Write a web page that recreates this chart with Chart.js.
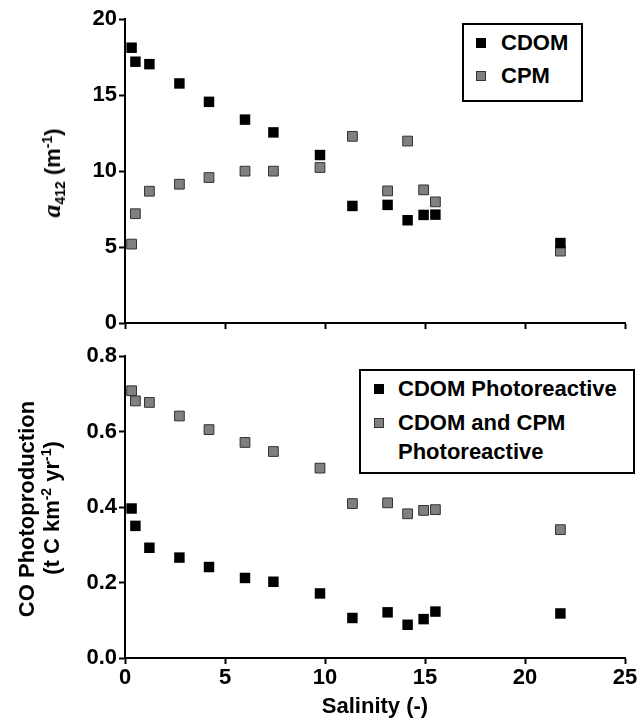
<!DOCTYPE html>
<html>
<head>
<meta charset="utf-8">
<script src="https://cdn.jsdelivr.net/npm/chart.js@4.4.1/dist/chart.umd.min.js"></script>
<style>
  html, body { margin: 0; padding: 0; background: #fff; }
  body { width: 638px; height: 728px; position: relative; overflow: hidden;
         font-family: "Liberation Sans", Arial, sans-serif; font-weight: bold; color: #000; }
  canvas { position: absolute; left: 0; }
  .ytitle { position: absolute; white-space: nowrap; font-size: 22px; font-weight: bold;
            transform: translate(-50%, -50%) rotate(-90deg); line-height: 1; }
  .ytitle sub, .ytitle sup { font-size: 14px; line-height: 0; }
  .legbox { position: absolute; border: 2px solid #000; box-sizing: border-box; background: #fff; }
  .mk { position: absolute; width: 10px; height: 10px; box-sizing: border-box; transform: translate(-50%, -50%); }
  .lt { position: absolute; font-size: 22px; font-weight: bold; white-space: nowrap; transform: translateY(-50%); line-height: 1; }
</style>
</head>
<body>
<canvas id="top" width="638" height="340" style="top:0"></canvas>
<canvas id="bot" width="638" height="388" style="top:340px"></canvas>

<div class="ytitle" style="left:52px; top:173px;"><span style="font-family:'Liberation Serif',serif; font-style:italic; font-weight:bold; font-size:26px;">a</span><sub>412</sub> (m<sup>-1</sup>)</div>
<div class="ytitle" style="left:27px; top:509px;">CO Photoproduction</div>
<div class="ytitle" style="left:52px; top:508px;">(t C km<sup>-2</sup> yr<sup>-1</sup>)</div>

<div class="legbox" style="left:462px; top:23px; width:121px; height:79px;"></div>
<div class="mk" style="left:481px; top:43px; background:#000;"></div>
<div class="lt" style="left:501px; top:43px;">CDOM</div>
<div class="mk" style="left:481px; top:76px; background:#808080; border:1px solid #333;"></div>
<div class="lt" style="left:501px; top:76px;">CPM</div>

<div class="legbox" style="left:359px; top:369px; width:276px; height:105px;"></div>
<div class="mk" style="left:379px; top:389px; background:#000;"></div>
<div class="lt" style="left:398px; top:389px;">CDOM Photoreactive</div>
<div class="mk" style="left:379px; top:423px; background:#808080; border:1px solid #333;"></div>
<div class="lt" style="left:398px; top:423px;">CDOM and CPM</div>
<div class="lt" style="left:398px; top:452px;">Photoreactive</div>

<script>
// Data
const salinity = [0.33, 0.52, 1.22, 2.72, 4.2, 6.0, 7.42, 9.75, 11.37, 13.13, 14.13, 14.93, 15.52, 21.77];
const cdomA412 = [18.11, 17.19, 17.03, 15.76, 14.55, 13.38, 12.54, 11.05, 7.70, 7.77, 6.76, 7.11, 7.13, 5.26];
const cpmA412  = [5.19, 7.19, 8.67, 9.13, 9.57, 9.99, 9.99, 10.23, 12.28, 8.69, 11.97, 8.76, 7.97, 4.73];
const coCdom    = [0.396, 0.350, 0.292, 0.266, 0.241, 0.212, 0.202, 0.171, 0.106, 0.121, 0.088, 0.103, 0.123, 0.118];
const coCdomCpm = [0.708, 0.681, 0.677, 0.641, 0.605, 0.571, 0.547, 0.503, 0.409, 0.411, 0.382, 0.391, 0.393, 0.340];
const xTicks = [0, 5, 10, 15, 20, 25];
const yTicksTop = [0, 5, 10, 15, 20];
const yTicksBot = [0, 0.2, 0.4, 0.6, 0.8];

const FONT = { family: "'Liberation Sans', Arial, sans-serif", size: 22, weight: 'bold', lineHeight: 1 };
const toPts = (xs, ys) => xs.map((x, i) => ({ x: x, y: ys[i] }));

function blackSet(label, ys) {
  return { label, data: toPts(salinity, ys), pointStyle: 'rect', pointRadius: 7.4, pointHoverRadius: 7.4,
           backgroundColor: '#000', borderColor: '#000', borderWidth: 0, showLine: false };
}
function graySet(label, ys) {
  return { label, data: toPts(salinity, ys), pointStyle: 'rect', pointRadius: 6.9, pointHoverRadius: 6.9,
           backgroundColor: '#808080', borderColor: '#333', borderWidth: 1, showLine: false };
}

function axisCommon() {
  return {
    border: { display: true, color: '#000', width: 2 },
    grid: { display: true, drawOnChartArea: false, drawTicks: true, tickLength: 6, tickColor: '#000', tickWidth: 2 },
  };
}

function makeChart(id, datasets, yMin, yMax, yTicks, yFmt, padTop, xHeight, showXLabels) {
  const xAxis = Object.assign(axisCommon(), {
    type: 'linear', min: 0, max: 25,
    afterBuildTicks: s => { s.ticks = xTicks.map(v => ({ value: v })); },
    afterFit: s => { s.height = xHeight; s.paddingLeft = 0; s.paddingRight = 0; },
    ticks: { font: FONT, color: showXLabels ? '#000' : 'rgba(0,0,0,0)', padding: 3, maxRotation: 0, autoSkip: false,
             callback: v => String(v) },
    title: showXLabels ? { display: true, text: 'Salinity (-)', color: '#000',
             font: { family: FONT.family, size: 22, weight: 'bold', lineHeight: 1.2 }, padding: { top: 0, bottom: 8 } }
           : { display: false }
  });
  const yAxis = Object.assign(axisCommon(), {
    type: 'linear', min: yMin, max: yMax,
    afterBuildTicks: s => { s.ticks = yTicks.map(v => ({ value: v })); },
    afterFit: s => { s.width = 125; s.paddingTop = 0; s.paddingBottom = 0; },
    ticks: { font: FONT, color: '#000', padding: 2, autoSkip: false, callback: yFmt }
  });
  return new Chart(document.getElementById(id), {
    type: 'scatter',
    data: { datasets },
    options: {
      responsive: false, animation: false, devicePixelRatio: 1,
      layout: { autoPadding: false, padding: { top: padTop, right: 13, left: 0, bottom: 0 } },
      plugins: { legend: { display: false }, tooltip: { enabled: false } },
      scales: { x: xAxis, y: yAxis },
      clip: false
    }
  });
}

makeChart('top', [blackSet('CDOM', cdomA412), graySet('CPM', cpmA412)],
  0, 20, yTicksTop, v => String(v), 19, 17, false);
makeChart('bot', [graySet('CDOM and CPM Photoreactive', coCdomCpm), blackSet('CDOM Photoreactive', coCdom)],
  0, 0.8, yTicksBot, v => Number(v).toFixed(1), 16, 70, true);
</script>
</body>
</html>
